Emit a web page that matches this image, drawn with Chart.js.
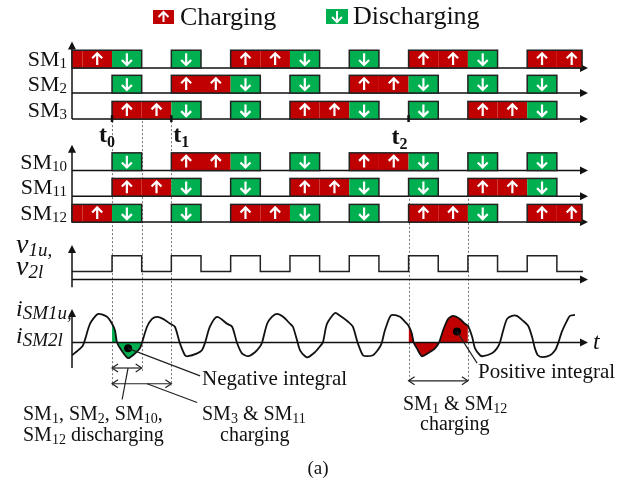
<!DOCTYPE html>
<html>
<head>
<meta charset="utf-8">
<script src="https://cdn.jsdelivr.net/npm/chart.js@4.4.1/dist/chart.umd.min.js"></script>
<style>
  html, body { margin: 0; padding: 0; background: #fff; }
  canvas { display: block; }
</style>
</head>
<body>
<canvas id="chart" width="634" height="495"></canvas>
<script>
/* ── Data ── */
const rows = ['SM1', 'SM2', 'SM3', 'SM10', 'SM11', 'SM12'];
// one char per switching cell, cells -2 … 15 (C = charging, D = discharging, - = bypassed)
const firstCell = -2;
const schedule = {
  SM1:  'CCD-D-CCD-D-CCD-CC',
  SM2:  '--D-CCD-D-CCD-D-D-',
  SM3:  '--CCD-D-CCD-D-CCD-',
  SM10: '--D-CCD-D-CCD-D-D-',
  SM11: '--CCD-D-CCD-D-CCD-',
  SM12: 'CCD-D-CCD-D-CCD-CC'
};
const tStart = -1.35, tEnd = 15.85, tAxis = 16.05;

// v1u / v2l gate signal, level holds until the next edge
const vEdges  = [-1.35, 0, 1, 2, 3, 4, 5, 6, 7, 8, 9, 10, 11, 12, 13, 14, 15, 15.88];
const vLevels = [0, 1, 0, 1, 0, 1, 0, 1, 0, 1, 0, 1, 0, 1, 0, 1, 0, 0];

// iSM1u / iSM2l
const currentT = [-1.35, -1.18, -0.98, -0.74, -0.47, -0.17, 0, 0.1, 0.17, 0.34, 0.54, 0.78, 0.94, 1,
  1.18, 1.35, 1.52, 1.72, 1.96, 2.12, 2.29, 2.46, 2.56, 2.87, 3.03, 3.14, 3.3, 3.54, 3.88, 4.05,
  4.21, 4.38, 4.59, 4.82, 4.99, 5.06, 5.23, 5.39, 5.56, 5.77, 6, 6.1, 6.24, 6.34, 6.51, 6.61,
  6.84, 7.01, 7.11, 7.25, 7.52, 7.69, 7.96, 8.12, 8.29, 8.46, 8.6, 8.8, 8.93, 9.04, 9.1, 9.2,
  9.37, 9.47, 9.71, 9.88, 10, 10.11, 10.17, 10.28, 10.45, 10.65, 10.89, 11.03, 11.16, 11.33,
  11.5, 11.73, 11.9, 12, 12.14, 12.24, 12.41, 12.51, 12.81, 12.98, 13.08, 13.18, 13.32, 13.49,
  13.65, 13.86, 14.03, 14.16, 14.26, 14.36, 14.53, 14.77, 14.94, 15.04, 15.17, 15.34, 15.44, 15.61];
const currentI = [-0.93, -0.64, -0.21, 1.36, 2.07, 1.86, 1.36, 0.86, 0, -0.64, -1.14, -0.79, -0.43, -0.1,
  1.14, 1.71, 1.86, 1.71, 1.36, 1.14, -0.07, -0.93, -1, -0.79, -0.57, 0, 1.14, 1.86, 1.36, 1.14,
  0, -0.79, -1, -0.71, -0.29, 0, 1.36, 1.86, 2.07, 1.86, 1.36, 1.14, 0.14, -0.57, -1, -1.07,
  -0.71, -0.29, 0, 1.36, 2.14, 1.93, 1.5, 1.14, -0.07, -0.93, -1, -0.93, -0.64, -0.29, 0, 0.86,
  1.86, 2, 1.86, 1.5, 1.21, 0.64, 0, -0.43, -1, -0.79, -0.43, 0, 0.86, 1.71,
  1.93, 1.71, 1.36, 1.21, 0.43, -0.43, -0.93, -1, -0.79, -0.43, 0, 0.79, 1.71, 1.93,
  1.93, 1.57, 1.21, 0.43, -0.43, -0.93, -1.07, -0.93, -0.57, -0.07, 0.79, 1.57, 1.93, 2];

const negWindow = [0, 1];     // green area
const posWindow = [10, 12];   // red area
const integralDots = [[0.54, -0.43], [11.63, 0.79]];
const eventT = [0, 2, 10];
const eventNames = ['0', '1', '2'];
const guideT = [0, 1, 2, 10, 12];

/* ── Layout (sheet units, top = 0) ── */
const lanes = { SM1: 65, SM2: 90.5, SM3: 117, SM10: 169.3, SM11: 195.3, SM12: 221.7, v: 280, i: 344 };
const blockH = 18, vLow = 272, vStep = 16, iUnit = 14;
const RED = '#c00000', GREEN = '#00b050', INK = '#111';
const SERIF = '"Liberation Serif", "Times New Roman", serif';

const vData = vEdges.map((t, k) => ({ x: t, y: vLow - vLevels[k] * vStep }));
const iData = currentT.map((t, k) => ({ x: t, y: lanes.i - currentI[k] * iUnit }));
const inWin = w => iData.filter(p => p.x >= w[0] && p.x <= w[1]);

/* ── Helpers ── */
function rich(ctx, x, y, runs, align) {
  let w = 0;
  runs.forEach(r => { ctx.font = r[1]; w += ctx.measureText(r[0]).width; });
  let cx = align === 'right' ? x - w : align === 'center' ? x - w / 2 : x;
  runs.forEach(r => {
    ctx.font = r[1];
    ctx.fillText(r[0], cx, y + (r[2] || 0));
    cx += ctx.measureText(r[0]).width;
  });
}

function arrowGlyph(ctx, cx, top, bottom, up) {
  const tip = up ? top : bottom, tail = up ? bottom : top, d = up ? 5 : -5;
  ctx.beginPath();
  ctx.moveTo(cx, tail); ctx.lineTo(cx, tip);
  ctx.moveTo(cx - 5, tip + d); ctx.lineTo(cx, tip); ctx.lineTo(cx + 5, tip + d);
  ctx.stroke();
}

function line(ctx, x0, y0, x1, y1) {
  ctx.beginPath(); ctx.moveTo(x0, y0); ctx.lineTo(x1, y1); ctx.stroke();
}

function headRight(ctx, x, y) {
  ctx.beginPath(); ctx.moveTo(x, y); ctx.lineTo(x - 8, y - 4); ctx.lineTo(x - 8, y + 4); ctx.closePath(); ctx.fill();
}
function headUp(ctx, x, y) {
  ctx.beginPath(); ctx.moveTo(x, y); ctx.lineTo(x - 4, y + 8); ctx.lineTo(x + 4, y + 8); ctx.closePath(); ctx.fill();
}

function span(ctx, x0, x1, y) {
  line(ctx, x0, y, x1, y);
  ctx.beginPath();
  ctx.moveTo(x0 + 6, y - 4); ctx.lineTo(x0, y); ctx.lineTo(x0 + 6, y + 4);
  ctx.moveTo(x1 - 6, y - 4); ctx.lineTo(x1, y); ctx.lineTo(x1 - 6, y + 4);
  ctx.stroke();
}

/* ── Sheet plugin: guides, axes, blocks, labels ── */
const sheet = {
  id: 'sheet',
  beforeDatasetsDraw(chart) {
    const ctx = chart.ctx;
    const X = v => chart.scales.x.getPixelForValue(v);
    const Y = v => chart.scales.y.getPixelForValue(v);
    ctx.save();
    ctx.strokeStyle = '#777'; ctx.lineWidth = 1; ctx.setLineDash([2, 2]);
    const ends = { 0: 388, 1: 373, 2: 388, 10: 383, 12: 383 };
    guideT.forEach(t => {
      const x = Math.round(X(t)) + 0.5;
      line(ctx, x, Y(t < 5 ? 115 : 198), x, Y(ends[t]));
    });
    ctx.restore();
  },
  afterDatasetsDraw(chart) {
    const ctx = chart.ctx;
    const X = v => chart.scales.x.getPixelForValue(v);
    const Y = v => chart.scales.y.getPixelForValue(v);
    const x0 = X(tStart), xEnd = X(tAxis);
    ctx.save();
    ctx.fillStyle = INK; ctx.strokeStyle = INK; ctx.lineWidth = 1.5;

    // axes
    [[lanes.SM3, 38], [lanes.SM12, 143], [288, 245], [370, 310]].forEach(([b, t]) => {
      line(ctx, x0, Y(b), x0, Y(t) + 6);
      headUp(ctx, x0, Y(t));
    });
    [...rows.map(r => lanes[r]), lanes.v, lanes.i].forEach(b => {
      line(ctx, x0, Y(b), xEnd - 6, Y(b));
      headRight(ctx, xEnd, Y(b));
    });

    // blocks
    rows.forEach(r => {
      const s = schedule[r], base = lanes[r];
      const top = Y(base - blockH), bot = Y(base);
      let runStart = null;
      for (let k = 0; k <= s.length; k++) {
        const c = s[k], t = firstCell + k;
        if (c === 'C' || c === 'D') {
          const a = Math.max(t, tStart), b = Math.min(t + 1, tEnd);
          ctx.fillStyle = c === 'C' ? RED : GREEN;
          ctx.fillRect(X(a), top, X(b) - X(a), bot - top);
          if (t + 0.5 > tStart) {
            ctx.strokeStyle = '#fff'; ctx.lineWidth = 2.2;
            arrowGlyph(ctx, X(t + 0.5), top + 3, bot - 3, c === 'C');
          }
          if (runStart === null) runStart = a;
        } else if (runStart !== null) {
          const b = Math.min(t, tEnd);
          ctx.strokeStyle = '#222'; ctx.lineWidth = 1.5;
          ctx.strokeRect(X(runStart), top, X(b) - X(runStart), bot - top);
          runStart = null;
        }
      }
    });

    ctx.fillStyle = INK; ctx.strokeStyle = INK;
    // event ticks and names
    const nameDx = [-13, 2, -17];
    eventT.forEach((t, k) => {
      ctx.lineWidth = 2.5;
      line(ctx, X(t), Y(113), X(t), Y(120));
      rich(ctx, X(t) + nameDx[k], Y(k === 2 ? 142 : 140),
        [['t', 'bold 24px ' + SERIF], [eventNames[k], 'bold 16px ' + SERIF, 5]], 'left');
    });

    // legend
    ctx.fillStyle = RED; ctx.fillRect(153, 10, 21, 14);
    ctx.fillStyle = GREEN; ctx.fillRect(326, 9, 22, 15);
    ctx.strokeStyle = '#fff'; ctx.lineWidth = 2;
    arrowGlyph(ctx, 163.5, 12, 22, true);
    arrowGlyph(ctx, 337, 11, 22, false);
    ctx.fillStyle = INK;
    ctx.font = '26px ' + SERIF;
    ctx.fillText('Charging', 180, 25);
    ctx.fillText('Discharging', 353, 24);

    // lane labels
    const f22 = '22px ' + SERIF, f15 = '15px ' + SERIF;
    rows.forEach(r => rich(ctx, 67, Y(lanes[r] - 2), [['SM', f22], [r.slice(2), f15, 2]], 'right'));
    const iv = 'italic 28px ' + SERIF, is = 'italic 19px ' + SERIF;
    rich(ctx, 16, Y(253), [['v', iv], ['1u,', is, 3]], 'left');
    rich(ctx, 16, Y(275), [['v', iv], ['2l', is, 3]], 'left');
    const ii = 'italic 24px ' + SERIF;
    rich(ctx, 16, Y(317), [['i', ii], ['SM1u,', is, 3]], 'left');
    rich(ctx, 16, Y(345), [['i', ii], ['SM2l', is, 3]], 'left');
    ctx.font = 'italic 24px ' + SERIF;
    ctx.fillText('t', xEnd + 5, Y(351));

    // spans and leaders
    ctx.strokeStyle = '#222'; ctx.lineWidth = 1.2;
    span(ctx, X(0), X(1), Y(370));
    span(ctx, X(0), X(2), Y(386));
    span(ctx, X(10), X(12), Y(383));
    line(ctx, X(0.54), Y(370), X(0.34), Y(402));
    line(ctx, X(1.18), Y(386), X(2.87), Y(405));
    line(ctx, X(integralDots[0][0]), Y(lanes.i - integralDots[0][1] * iUnit), X(2.97), Y(378));
    line(ctx, X(integralDots[1][0]), Y(lanes.i - integralDots[1][1] * iUnit), X(12.31), Y(365));

    // annotation text
    const f20 = '20px ' + SERIF, s14 = '14px ' + SERIF, f21 = '21px ' + SERIF;
    ctx.font = f21;
    ctx.fillText('Negative integral', 202, Y(387));
    ctx.fillText('Positive integral', 478, Y(380));
    rich(ctx, 23, Y(423), [['SM', f20], ['1', s14, 3], [', SM', f20], ['2', s14, 3], [', SM', f20], ['10', s14, 3], [',', f20]], 'left');
    rich(ctx, 23, Y(444), [['SM', f20], ['12', s14, 3], [' discharging', f20]], 'left');
    rich(ctx, 202, Y(423), [['SM', f20], ['3', s14, 3], [' & SM', f20], ['11', s14, 3]], 'left');
    ctx.font = f20; ctx.fillText('charging', 220, Y(444));
    rich(ctx, 403, Y(413), [['SM', f20], ['1', s14, 3], [' & SM', f20], ['12', s14, 3]], 'left');
    ctx.font = f20; ctx.fillText('charging', 420, Y(433));
    ctx.font = '19px ' + SERIF; ctx.textAlign = 'center';
    ctx.fillText('(a)', 318, Y(478));
    ctx.restore();
  }
};

/* ── Chart ── */
new Chart(document.getElementById('chart'), {
  type: 'scatter',
  data: {
    datasets: [
      { data: integralDots.map(d => ({ x: d[0], y: lanes.i - d[1] * iUnit })), pointRadius: 4,
        pointBackgroundColor: '#000', pointBorderWidth: 0, showLine: false, order: 0 },
      { data: iData, showLine: true, borderColor: INK, borderWidth: 1.8, pointRadius: 0, tension: 0.25, order: 1 },
      { data: inWin(negWindow), showLine: true, borderWidth: 0, pointRadius: 0, tension: 0.25,
        fill: { target: { value: lanes.i } }, backgroundColor: GREEN, order: 2 },
      { data: inWin(posWindow), showLine: true, borderWidth: 0, pointRadius: 0, tension: 0.25,
        fill: { target: { value: lanes.i } }, backgroundColor: RED, order: 2 },
      { data: vData, showLine: true, stepped: 'before', borderColor: '#222', borderWidth: 1.5, pointRadius: 0, order: 3 }
    ]
  },
  options: {
    responsive: false, animation: false,
    layout: { padding: { left: 72, right: 46, top: 0, bottom: 0 } },
    scales: {
      x: { type: 'linear', min: tStart, max: tAxis, display: false },
      y: { type: 'linear', min: 0, max: 495, reverse: true, display: false }
    },
    plugins: { legend: { display: false }, tooltip: { enabled: false } }
  },
  plugins: [sheet]
});
</script>
</body>
</html>
